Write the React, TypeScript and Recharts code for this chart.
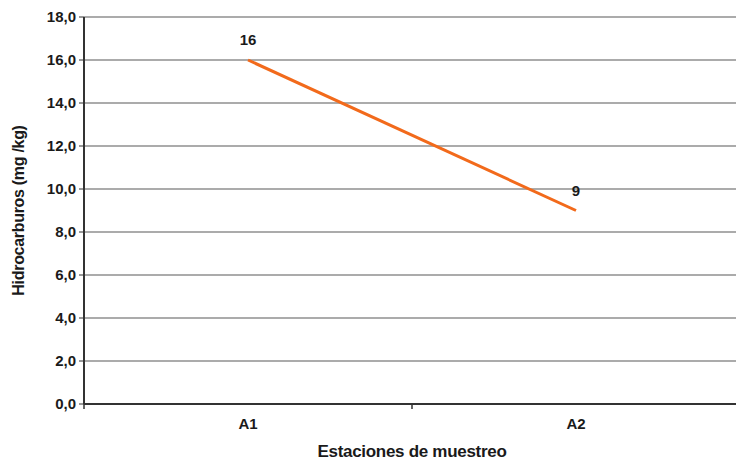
import { LineChart, Line, XAxis, YAxis, CartesianGrid, LabelList, Label } from "recharts";

const STATIONS = ["A1", "A2"];
const HIDROCARBUROS = [16, 9];
const Y_TICKS = [0, 2, 4, 6, 8, 10, 12, 14, 16, 18];

const DATA = STATIONS.map((name, i) => ({ name, pos: i + 0.5, value: HIDROCARBUROS[i] }));
const X_TICKS = [0, 0.5, 1, 1.5, 2];

const FONT = "'Liberation Sans', Arial, sans-serif";

function StationTick(props: any) {
  const { x, y, payload } = props;
  const v = payload.value as number;
  if (Number.isInteger(v)) {
    return <line x1={x} x2={x} y1={y - 5} y2={y} stroke="#333" strokeWidth={1.5} />;
  }
  return (
    <text x={x} y={y + 20} textAnchor="middle" fontFamily={FONT} fontWeight="bold" fontSize={15} fill="#1a1a1a">
      {STATIONS[Math.floor(v)]}
    </text>
  );
}

export default function App() {
  return (
    <div style={{ position: "absolute", left: 0, top: 0, width: 736, height: 460, overflow: "hidden", background: "#fff" }}>
      <LineChart width={740} height={460} data={DATA} margin={{ top: 17, right: 0, left: 0, bottom: 0 }}>
        <CartesianGrid horizontal vertical={false} stroke="#8f8f8f" strokeWidth={1.3} />
        <XAxis
          dataKey="pos"
          type="number"
          domain={[0, 2]}
          ticks={X_TICKS}
          tick={<StationTick />}
          tickLine={false}
          tickSize={5}
          tickMargin={0}
          interval={0}
          height={56}
          axisLine={{ stroke: "#333", strokeWidth: 2 }}
        >
          <Label
            value="Estaciones de muestreo"
            position="insideBottom"
            offset={3}
            style={{ fontFamily: FONT, fontWeight: "bold", fontSize: 17, letterSpacing: -0.3, fill: "#1a1a1a" }}
          />
        </XAxis>
        <YAxis
          domain={[0, 18]}
          ticks={Y_TICKS}
          interval={0}
          width={84}
          tickSize={5}
          tickMargin={3}
          tickFormatter={(v: number) => v.toFixed(1).replace(".", ",")}
          tick={{ fontFamily: FONT, fontWeight: "bold", fontSize: 15, fill: "#1a1a1a" }}
          tickLine={{ stroke: "#333" }}
          axisLine={{ stroke: "#333", strokeWidth: 2 }}
        >
          <Label
            value="Hidrocarburos (mg /kg)"
            angle={-90}
            position="insideLeft"
            offset={18}
            style={{ textAnchor: "middle", fontFamily: FONT, fontWeight: "bold", fontSize: 16, letterSpacing: -0.3, fill: "#1a1a1a" }}
          />
        </YAxis>
        <Line
          type="linear"
          dataKey="value"
          stroke="#f26a1b"
          strokeWidth={3}
          dot={false}
          activeDot={false}
          isAnimationActive={false}
        >
          <LabelList
            dataKey="value"
            position="top"
            offset={15}
            style={{ fontFamily: FONT, fontWeight: "bold", fontSize: 15, fill: "#1a1a1a" }}
          />
        </Line>
      </LineChart>
    </div>
  );
}
